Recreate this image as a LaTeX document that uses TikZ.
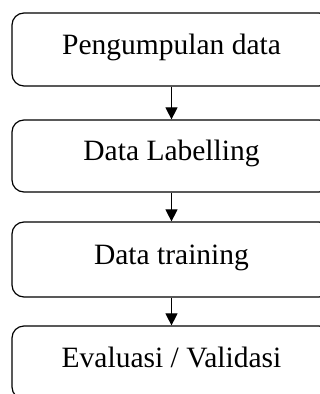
\documentclass[tikz,border=0pt]{standalone}
\usepackage{fontspec}
\setmainfont{Liberation Serif}
\usetikzlibrary{arrows.meta}
\begin{document}
\begin{tikzpicture}[x=1pt,y=-1pt,
  stepbox/.style={draw, line width=1.2pt, rounded corners=12pt, rectangle,
    minimum width=319pt, inner sep=0pt, text height=19pt, text depth=10pt,
    font=\fontsize{29.5}{34}\selectfont},
  flow/.style={line width=1pt, -{Triangle[length=12pt,width=12pt]}}]
\useasboundingbox (0,0) rectangle (320,394);
\clip (0,0) rectangle (320,394);
\node[stepbox, minimum height=73pt] (b1) at (171.5,49.5) {Pengumpulan data};
\node[stepbox, minimum height=72pt] (b2) at (171.5,156) {Data Labelling};
\node[stepbox, minimum height=75pt] (b3) at (171.5,259.5) {Data training};
\node[stepbox, minimum height=73pt] (b4) at (171.5,362.5) {Evaluasi / Validasi};
\draw[flow] (b1.south) -- (b2.north);
\draw[flow] (b2.south) -- (b3.north);
\draw[flow] (b3.south) -- (b4.north);
\end{tikzpicture}
\end{document}
